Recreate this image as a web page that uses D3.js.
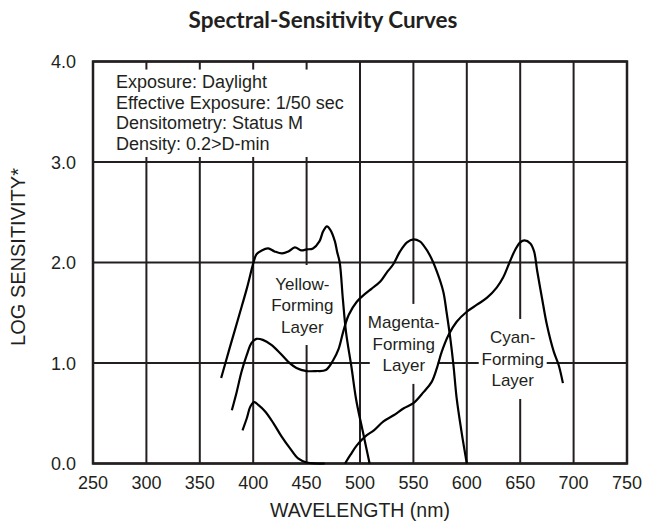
<!DOCTYPE html>
<html>
<head>
<meta charset="utf-8">
<script src="https://cdn.jsdelivr.net/npm/d3@7"></script>
<style>
  body { margin: 0; background: #fff; }
  svg text { font-family: "Liberation Sans", Arial, sans-serif; fill: #231f20; }
</style>
</head>
<body>
<div id="chart"></div>
<script>
// wavelength (nm), log sensitivity
const yellowLayer = [[370,0.85],[378,1.15],[387,1.48],[394,1.74],[398.5,1.93],[400,1.99],[403,2.08],[408,2.12],[414,2.14],[420,2.11],[427,2.09],[433,2.11],[439,2.15],[445,2.12],[450,2.13],[456,2.14],[462,2.21],[465.5,2.31],[469,2.36],[472.5,2.32],[476.5,2.21],[478.5,2.11],[481,2.0],[484,1.63],[487,1.3],[492,0.96],[496.5,0.63],[503,0.3],[509,0.0]];
const magentaLayer = [[380,0.53],[384.5,0.71],[389,0.91],[394,1.08],[398.5,1.2],[403,1.24],[409,1.23],[417,1.18],[425,1.1],[433,1.01],[440.5,0.95],[450,0.92],[459,0.92],[468,0.93],[475,1.03],[480,1.14],[484.5,1.32],[489.5,1.48],[497,1.61],[505,1.69],[511,1.74],[519,1.81],[525,1.9],[531,1.98],[537.5,2.11],[544,2.2],[550,2.23],[556,2.21],[559.5,2.17],[565.5,2.07],[572,1.91],[578,1.71],[581,1.51],[584.5,1.25],[587.5,0.98],[590.5,0.65],[595,0.32],[600,0.0]];
const cyanBlueLobe = [[390,0.33],[394,0.45],[397.5,0.57],[401,0.61],[405,0.58],[411,0.52],[419,0.4],[426.5,0.27],[434.5,0.15],[442,0.05],[450,0.01],[459,0.0],[467,0.0]];
const cyanLayer = [[486,0.0],[491,0.085],[497,0.18],[505,0.27],[513,0.33],[522,0.42],[531.5,0.48],[541,0.55],[550,0.6],[559.5,0.71],[567,0.81],[572,0.95],[576.5,1.11],[583,1.28],[590.5,1.41],[600,1.51],[609.5,1.58],[619,1.65],[628,1.75],[634,1.85],[640,2.0],[645,2.12],[650,2.2],[654,2.22],[659.5,2.19],[663,2.11],[666,1.91],[670.5,1.64],[675,1.38],[681.5,1.11],[686,0.98],[690,0.8]];

const xTicks = [250,300,350,400,450,500,550,600,650,700,750];
const yTicks = [0,1,2,3,4];

const infoLines = ["Exposure: Daylight","Effective Exposure: 1/50 sec","Densitometry: Status M","Density: 0.2>D-min"];
// nm / v = centre of the middle text line
const layerLabels = [
  { nm: 446, v: 1.577, lines: ["Yellow-","Forming","Layer"] },
  { nm: 541, v: 1.19, lines: ["Magenta-","Forming","Layer"] },
  { nm: 643, v: 1.04, lines: ["Cyan-","Forming","Layer"] }
];

const width = 647, height = 531;
const x = d3.scaleLinear().domain([250, 750]).range([93, 627]);
const y = d3.scaleLinear().domain([0, 4]).range([463.5, 61.5]);

const svg = d3.select("#chart").append("svg")
  .attr("width", width)
  .attr("height", height);

// grid
const grid = svg.append("g").attr("stroke", "#231f20").attr("stroke-width", 2);
grid.selectAll(".vg").data(xTicks).enter().append("line")
  .attr("x1", d => x(d)).attr("x2", d => x(d))
  .attr("y1", y(0)).attr("y2", y(4));
grid.selectAll(".hg").data(yTicks).enter().append("line")
  .attr("x1", x(250)).attr("x2", x(750))
  .attr("y1", d => y(d)).attr("y2", d => y(d));

// white boxes behind the texts (grid shows as stubs at their edges)
svg.append("rect")
  .attr("x", x(252)).attr("y", y(3.92))
  .attr("width", x(496) - x(252)).attr("height", y(3.05) - y(3.92))
  .attr("fill", "#fff");
layerLabels.forEach(l => {
  svg.append("rect")
    .attr("x", x(l.nm) - 34).attr("y", y(l.v) - 40)
    .attr("width", 68).attr("height", 80)
    .attr("fill", "#fff");
});

// frame
svg.append("rect")
  .attr("x", x(250)).attr("y", y(4))
  .attr("width", x(750) - x(250)).attr("height", y(0) - y(4))
  .attr("fill", "none").attr("stroke", "#231f20").attr("stroke-width", 2.5);

// curves
const line = d3.line()
  .x(d => x(d[0]))
  .y(d => y(d[1]))
  .curve(d3.curveCatmullRom.alpha(0.5));

svg.append("g").selectAll("path")
  .data([yellowLayer, magentaLayer, cyanBlueLobe, cyanLayer])
  .enter().append("path")
  .attr("d", line)
  .attr("fill", "none")
  .attr("stroke", "#000")
  .attr("stroke-width", 2.2)
  .attr("stroke-linejoin", "round");

// info text
svg.append("g").selectAll("text")
  .data(infoLines).enter().append("text")
  .attr("x", 116)
  .attr("y", (d, i) => 88 + i * 20.7)
  .attr("font-size", "18px")
  .text(d => d);

// layer labels
layerLabels.forEach(l => {
  svg.append("g").selectAll("text")
    .data(l.lines).enter().append("text")
    .attr("x", x(l.nm))
    .attr("y", (d, i) => y(l.v) + 6 + (i - 1) * 21.5)
    .attr("text-anchor", "middle")
    .attr("font-size", "17px")
    .text(d => d);
});

// tick labels
svg.append("g").selectAll("text")
  .data(xTicks).enter().append("text")
  .attr("x", d => x(d))
  .attr("y", 488.5)
  .attr("text-anchor", "middle")
  .attr("font-size", "18px")
  .text(d => d);

svg.append("g").selectAll("text")
  .data(yTicks).enter().append("text")
  .attr("x", 76)
  .attr("y", d => y(d) + 6.5)
  .attr("text-anchor", "end")
  .attr("font-size", "18px")
  .text(d => d3.format(".1f")(d));

// titles
svg.append("text")
  .attr("x", 323).attr("y", 28)
  .attr("text-anchor", "middle")
  .style("font-family", "Lato, 'Open Sans', sans-serif")
  .style("font-weight", "bold")
  .attr("font-size", "22.5px")
  .text("Spectral-Sensitivity Curves");

svg.append("text")
  .attr("x", x(500)).attr("y", 517)
  .attr("text-anchor", "middle")
  .attr("font-size", "19.5px")
  .text("WAVELENGTH (nm)");

svg.append("text")
  .attr("transform", "translate(25,257) rotate(-90)")
  .attr("text-anchor", "middle")
  .attr("font-size", "20px")
  .text("LOG SENSITIVITY*");
</script>
</body>
</html>
